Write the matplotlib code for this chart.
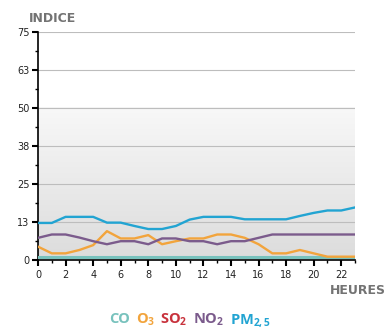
import numpy as np
import matplotlib
matplotlib.use("Agg")
import matplotlib.pyplot as plt
from matplotlib.colors import LinearSegmentedColormap
from matplotlib.offsetbox import TextArea, HPacker, AnchoredOffsetbox

hours = list(range(24))
pm25 = [12.2, 12.2, 14.2, 14.2, 14.2, 12.3, 12.3, 11.2, 10.2, 10.2, 11.2, 13.3,
        14.2, 14.2, 14.2, 13.4, 13.4, 13.4, 13.4, 14.5, 15.5, 16.3, 16.3, 17.3]
no2 = [7.3, 8.4, 8.4, 7.4, 6.2, 5.2, 6.2, 6.2, 5.2, 7.1, 7.1, 6.2,
       6.2, 5.2, 6.2, 6.2, 7.3, 8.4, 8.4, 8.4, 8.4, 8.4, 8.4, 8.4]
o3 = [4.4, 2.2, 2.2, 3.3, 4.9, 9.5, 7.1, 7.1, 8.2, 5.2, 6.2, 7.1,
      7.1, 8.4, 8.4, 7.3, 5.2, 2.2, 2.2, 3.3, 2.2, 1.1, 1.1, 1.1]
co = [1.1] * 24

y_ticks = [0, 12.5, 25, 37.5, 50, 62.5, 75]
y_labels = ["0", "13", "25", "38", "50", "63", "75"]

C_CO = "#78c2bd"
C_O3 = "#f2a43c"
C_SO2 = "#c8323c"
C_NO2 = "#7b5b8c"
C_PM = "#22a4d2"
GREY = "#737373"

fig = plt.figure(figsize=(3.88, 3.30), dpi=100)
ax = fig.add_axes([0.098, 0.212, 0.817, 0.691])

# background: white above 50, light grey gradient below
cmap = LinearSegmentedColormap.from_list(
    "bg", [(0, "#dcdcdc"), (0.5, "#eaeaea"), (1, "#f8f8f8")])
grad = np.linspace(0, 1, 256).reshape(-1, 1)
ax.imshow(grad, aspect="auto", cmap=cmap, origin="lower", vmin=0, vmax=1,
          extent=[0, 23, 0, 50], zorder=0, interpolation="bilinear")

for y in y_ticks[1:]:
    ax.axhline(y, color="#bdbdbd", lw=0.8, zorder=1)

ax.plot(hours, co, color=C_CO, lw=2.2, zorder=3)
ax.plot(hours, o3, color=C_O3, lw=1.7, zorder=4)
ax.plot(hours, no2, color=C_NO2, lw=1.7, zorder=4)
ax.plot(hours, pm25, color=C_PM, lw=1.7, zorder=5)

ax.set_xlim(0, 23)
ax.set_ylim(0, 75)
ax.set_yticks(y_ticks)
ax.set_yticklabels(y_labels)
ax.set_yticks(np.arange(0, 75, 6.25), minor=True)
ax.set_xticks(range(0, 24, 2))
ax.set_xticks(range(0, 24), minor=True)

for s in ["top", "right"]:
    ax.spines[s].set_visible(False)
for s in ["left", "bottom"]:
    ax.spines[s].set_linewidth(1.2)
    ax.spines[s].set_color("black")

ax.tick_params(axis="both", which="major", length=4, width=1.5, labelsize=7,
               labelcolor="#222222")
ax.tick_params(axis="both", which="minor", length=2.5, width=1)
ax.tick_params(axis="y", pad=2)
ax.tick_params(axis="x", pad=3)

fig.text(0.075, 0.945, "INDICE", fontsize=9, fontweight="bold", color=GREY,
         ha="left", va="center")
fig.text(0.995, 0.12, "HEURES", fontsize=9, fontweight="bold", color=GREY,
         ha="right", va="center")

# legend as coloured text pieces
parts = [("CO", C_CO), (r"$\mathregular{O_3}$", C_O3),
         (r"$\mathregular{SO_2}$", C_SO2), (r"$\mathregular{NO_2}$", C_NO2),
         (r"$\mathregular{PM_{2,5}}$", C_PM)]
areas = [TextArea(t, textprops=dict(color=c, fontsize=10.5, fontweight="bold",
                                    family="Open Sans"))
         for t, c in parts]
box = HPacker(children=areas, align="baseline", pad=0, sep=4)
anchored = AnchoredOffsetbox(loc="center", child=box, frameon=False,
                             bbox_to_anchor=(0.49, 0.03),
                             bbox_transform=fig.transFigure, borderpad=0)
fig.add_artist(anchored)

fig.savefig("out.png", dpi=100)
